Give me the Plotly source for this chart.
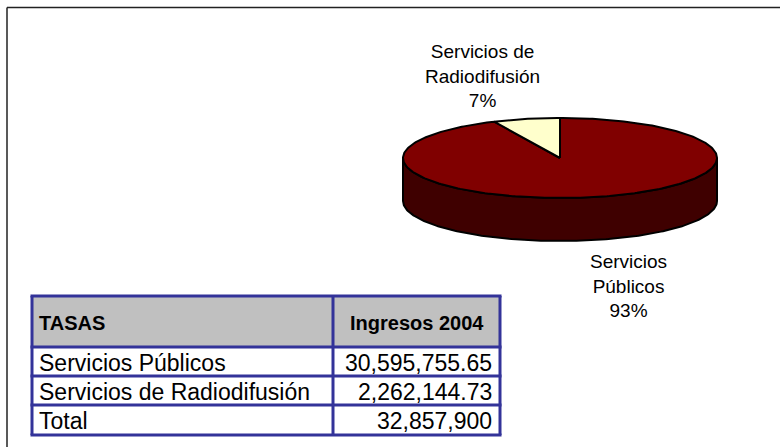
import numpy as np
import plotly.graph_objects as go

# ---- data -------------------------------------------------------------
tasas = ["Servicios Públicos", "Servicios de Radiodifusión"]
ingresos_2004 = [30595755.65, 2262144.73]
encabezados = ["TASAS", "Ingresos 2004"]
etiqueta_total = "Total"

# ---- styling ------------------------------------------------------------
FONT = "Arial, 'Liberation Sans', sans-serif"
slice_colors = ["#800000", "#FFFFCC"]
side_color = "#3F0000"
grid_color = "#333399"
header_fill = "#C0C0C0"

W, H = 780, 447
# 3-D pie geometry (pixel space)
CX, CY, RX, RY, DEPTH = 560, 158, 157, 40, 43
# outside label anchors (centre of each label block), one per slice
label_pos = [(628, 286), (482, 76)]

# table geometry
col_edges = [32, 333, 500]
row_edges = [296, 347, 376, 405, 435]

total = sum(ingresos_2004)
fractions = [v / total for v in ingresos_2004]


def rim(theta_deg, dy=0.0):
    """Point on the tilted pie rim; theta measured clockwise from 12 o'clock."""
    t = np.radians(theta_deg)
    return CX + RX * np.sin(t), CY - RY * np.cos(t) + dy


fig = go.Figure()

# side wall (front half of the pie)
th = np.linspace(90, 270, 181)
xt, yt = rim(th)
xb, yb = rim(th[::-1], DEPTH)
fig.add_trace(go.Scatter(
    x=np.concatenate([xt, xb, xt[:1]]),
    y=np.concatenate([yt, yb, yt[:1]]),
    mode="lines", fill="toself", fillcolor=side_color,
    line=dict(color="black", width=2), hoverinfo="skip", showlegend=False))

# top face slices
start = 0.0
for name, frac, color in zip(tasas, fractions, slice_colors):
    end = start + 360 * frac
    th = np.linspace(start, end, max(int(end - start) + 2, 3))
    xs, ys = rim(th)
    fig.add_trace(go.Scatter(
        x=np.concatenate([[CX], xs, [CX]]),
        y=np.concatenate([[CY], ys, [CY]]),
        mode="lines", fill="toself", fillcolor=color,
        line=dict(color="black", width=2), name=name,
        hoverinfo="name", showlegend=False))
    start = end


def wrap(text):
    head, _, tail = text.rpartition(" ")
    return f"{head}<br>{tail}"


annotations = []
for name, frac, (lx, ly) in zip(tasas, fractions, label_pos):
    annotations.append(dict(
        x=lx, y=ly, xref="x", yref="y", showarrow=False,
        text=f"{wrap(name)}<br>{frac * 100:.0f}%",
        font=dict(family=FONT, size=19, color="black"),
        align="center", xanchor="center", yanchor="middle"))

shapes = []
# outer frame (top and left edges visible in the window)
shapes.append(dict(type="line", xref="x", yref="y", x0=7, y0=7.5, x1=W + 5, y1=7.5,
                   line=dict(color="#222222", width=1.5)))
shapes.append(dict(type="line", xref="x", yref="y", x0=7, y0=7.5, x1=7, y1=H + 5,
                   line=dict(color="#222222", width=1.5)))

# table header background
shapes.append(dict(type="rect", xref="x", yref="y",
                   x0=col_edges[0], x1=col_edges[-1], y0=row_edges[0], y1=row_edges[1],
                   fillcolor=header_fill, line=dict(width=0), layer="below"))
# table grid
for yy in row_edges:
    shapes.append(dict(type="line", xref="x", yref="y", x0=col_edges[0] - 1.5,
                       x1=col_edges[-1] + 1.5, y0=yy, y1=yy,
                       line=dict(color=grid_color, width=3)))
for xx in col_edges:
    shapes.append(dict(type="line", xref="x", yref="y", x0=xx, x1=xx,
                       y0=row_edges[0], y1=row_edges[-1],
                       line=dict(color=grid_color, width=3)))

# table text
def row_mid(i):
    return (row_edges[i] + row_edges[i + 1]) / 2 + 1

annotations.append(dict(x=col_edges[0] + 5, y=row_mid(0), xref="x", yref="y",
                        text=f"<b>{encabezados[0]}</b>", showarrow=False,
                        xanchor="left", yanchor="middle",
                        font=dict(family=FONT, size=20, color="black")))
annotations.append(dict(x=(col_edges[1] + col_edges[2]) / 2, y=row_mid(0), xref="x", yref="y",
                        text=f"<b>{encabezados[1]}</b>", showarrow=False,
                        xanchor="center", yanchor="middle",
                        font=dict(family=FONT, size=20, color="black")))

body_rows = [(n, f"{v:,.2f}") for n, v in zip(tasas, ingresos_2004)]
body_rows.append((etiqueta_total, f"{total:,.0f}"))
for i, (name, value) in enumerate(body_rows, start=1):
    annotations.append(dict(x=col_edges[0] + 5, y=row_mid(i), xref="x", yref="y",
                            text=name, showarrow=False, xanchor="left", yanchor="middle",
                            font=dict(family=FONT, size=23, color="black")))
    annotations.append(dict(x=col_edges[2] - 6, y=row_mid(i), xref="x", yref="y",
                            text=value, showarrow=False, xanchor="right", yanchor="middle",
                            font=dict(family=FONT, size=23, color="black")))

fig.update_layout(
    width=W, height=H,
    margin=dict(l=0, r=0, t=0, b=0),
    paper_bgcolor="white", plot_bgcolor="white",
    xaxis=dict(range=[0, W], visible=False, fixedrange=True),
    yaxis=dict(range=[H, 0], visible=False, fixedrange=True),
    shapes=shapes, annotations=annotations,
    showlegend=False,
)

fig.write_html("out.html")
